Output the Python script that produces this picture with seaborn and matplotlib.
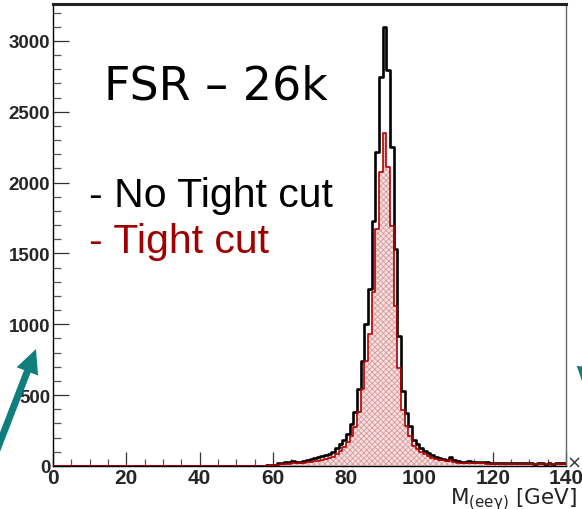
import numpy as np
import pandas as pd
import matplotlib
matplotlib.use("Agg")
import matplotlib.pyplot as plt
import seaborn as sns
from matplotlib.ticker import MultipleLocator
from matplotlib.patches import FancyArrow

# ---------------- data ----------------
mass_min, mass_max, bin_width = 0, 140, 1          # GeV, 1 GeV bins
first_filled_bin = 55                              # bins below are empty
# counts per bin, bins 55..139  (No Tight cut)
no_tight = [0, 0, 2, 5, 8, 10, 18, 22, 25, 27,
            38, 30, 31, 35, 40, 47, 54, 62, 70, 78,
            88, 100, 130, 155, 180, 226, 297, 379, 544, 743,
            1002, 1249, 1732, 2219, 2744, 3097, 2795, 2250, 1532, 920,
            530, 375, 285, 185, 158, 130, 105, 92, 76, 62,
            56, 50, 43, 60, 40, 33, 30, 30, 32, 31,
            28, 26, 27, 25, 24, 22, 21, 20, 22, 22,
            20, 19, 18, 18, 20, 18, 17, 19, 18, 17,
            18, 17, 22, 19, 18]
# counts per bin, bins 55..139  (Tight cut)
tight = [0, 0, 1, 3, 5, 7, 10, 12, 14, 15,
         18, 18, 22, 24, 26, 30, 34, 38, 42, 50,
         58, 66, 88, 108, 132, 167, 215, 275, 379, 544,
         740, 932, 1226, 1673, 2077, 2348, 2108, 1690, 1132, 690,
         395, 283, 214, 142, 120, 100, 88, 68, 58, 50,
         45, 40, 36, 45, 27, 24, 22, 21, 22, 20,
         19, 18, 18, 17, 16, 14, 14, 13, 15, 14,
         13, 12, 12, 12, 13, 12, 11, 12, 11, 11,
         12, 11, 14, 12, 11]
x_ticks = [0, 20, 40, 60, 80, 100, 120, 140]
y_ticks = [0, 500, 1000, 1500, 2000, 2500, 3000]
y_max = 3260
title_text = "FSR \u2013 26k"
legend_black = "- No Tight cut"
legend_red = "- Tight cut"
x_label = r"M$_{\mathregular{(ee\gamma)}}$ [GeV]"
exp_text = "\u00d710"

# ---------------- build table ----------------
n_bins = int((mass_max - mass_min) / bin_width)
centers = mass_min + bin_width * (np.arange(n_bins) + 0.5)
black = np.zeros(n_bins)
red = np.zeros(n_bins)
black[first_filled_bin:first_filled_bin + len(no_tight)] = no_tight
red[first_filled_bin:first_filled_bin + len(tight)] = tight
df = pd.DataFrame({"mass": centers, "no_tight": black, "tight": red})

# ---------------- style ----------------
sns.set_theme(style="white")
plt.rcParams["font.family"] = ["DejaVu Sans"]
plt.rcParams["mathtext.fontset"] = "dejavusans"
plt.rcParams["hatch.color"] = "#d99a9a"
plt.rcParams["hatch.linewidth"] = 0.6

W, H = 582, 510
fig = plt.figure(figsize=(W / 100, H / 100), dpi=100)
fig.patch.set_facecolor("white")
L, R, T, B = 53, 566, 5, 467
ax = fig.add_axes([L / W, 1 - B / H, (R - L) / W, (B - T) / H])
ax.set_facecolor("white")

hist_kw = dict(data=df, x="mass", bins=n_bins, binrange=(mass_min, mass_max),
               element="step", ax=ax)
RED_LINE = "#b50000"
# red filled area
sns.histplot(weights="tight", fill=True, color=RED_LINE, linewidth=0, **hist_kw)
poly = ax.collections[-1]
poly.set_facecolor("#f6e0e0")
poly.set_alpha(1)
poly.set_hatch("xxxxxx")
poly.set_edgecolor("#d99a9a")
poly.set_linewidth(0)
poly.set_zorder(1)
# black outline
sns.histplot(weights="no_tight", fill=False, color="black", linewidth=1.9,
             zorder=2, **hist_kw)
# red outline
sns.histplot(weights="tight", fill=False, color=RED_LINE, linewidth=1.2,
             zorder=3, **hist_kw)

ax.set_xlim(mass_min, mass_max)
ax.set_ylim(0, y_max)
ax.set_xlabel("")
ax.set_ylabel("")

ax.set_xticks(x_ticks)
ax.set_yticks(y_ticks)
ax.xaxis.set_minor_locator(MultipleLocator(5))
ax.yaxis.set_minor_locator(MultipleLocator(100))
ax.tick_params(axis="y", which="major", direction="in", length=11.5, width=0.9,
               color="#333333", left=True, right=False, pad=2)
ax.tick_params(axis="y", which="minor", direction="in", length=5.8, width=0.9,
               color="#555555", left=True, right=False)
ax.tick_params(axis="x", which="major", direction="in", length=10, width=0.9,
               color="#333333", bottom=True, top=False, pad=1.5)
ax.tick_params(axis="x", which="minor", direction="in", length=5, width=0.9,
               color="#555555", bottom=True, top=False)
tick_family = ["Liberation Sans Narrow", "Liberation Sans"]
for lab in ax.get_yticklabels():
    lab.set_fontfamily(tick_family)
    lab.set_fontweight("bold")
    lab.set_fontsize(13.5)
for lab in ax.get_xticklabels():
    lab.set_fontfamily(tick_family)
    lab.set_fontweight("bold")
    lab.set_fontsize(15)

for s in ["left", "bottom"]:
    ax.spines[s].set_color("black")
    ax.spines[s].set_linewidth(1.0)
ax.spines["top"].set_color("#222222")
ax.spines["top"].set_linewidth(2.2)
ax.spines["right"].set_color("#666666")
ax.spines["right"].set_linewidth(1.0)

# ---------------- texts ----------------
def px(x, y):
    return x / W, 1 - y / H

fig.text(*px(104, 100), title_text, fontsize=33, color="black",
         family=["DejaVu Sans"], va="baseline", ha="left")
fig.text(*px(89, 207), legend_black, fontsize=29.5, color="black",
         family=["Liberation Sans"], va="baseline", ha="left")
fig.text(*px(89, 253), legend_red, fontsize=29.5, color="#9e0000",
         family=["Liberation Sans"], va="baseline", ha="left")
fig.text(*px(577, 504), x_label, fontsize=15.5, color="#222222",
         family=["DejaVu Sans"], va="baseline", ha="right")
fig.text(*px(567, 463), exp_text, fontsize=13, color="#333333",
         family=["DejaVu Sans"], va="center", ha="left")

# ---------------- teal arrows (overlay) ----------------
ov = fig.add_axes([0, 0, 1, 1], zorder=10)
ov.set_xlim(0, W)
ov.set_ylim(H, 0)
ov.axis("off")
ov.patch.set_alpha(0)
TEAL = "#0f7f7e"
ov.add_patch(FancyArrow(-22, 500, 58, -150, width=7, head_width=23,
                        head_length=24, length_includes_head=True,
                        color=TEAL, lw=0))
ov.add_patch(FancyArrow(604, 230, -18.6, 162, width=7, head_width=23,
                        head_length=24, length_includes_head=True,
                        color=TEAL, lw=0))

fig.savefig("out.png", dpi=100, facecolor="white")
